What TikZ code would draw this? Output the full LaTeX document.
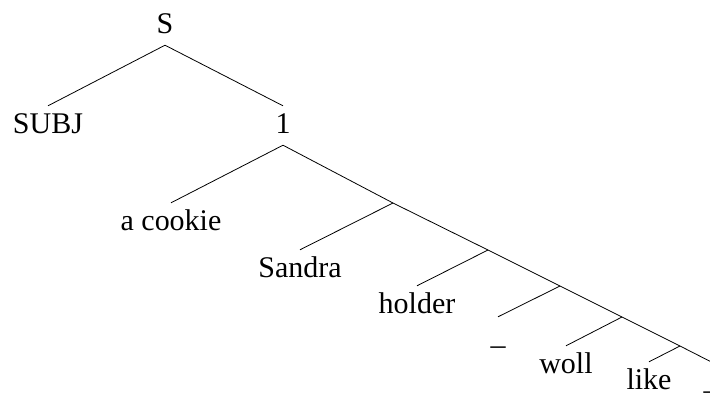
\documentclass[tikz,border=0pt]{standalone}
\usepackage{fontspec}
\setmainfont{Liberation Serif}
\begin{document}
\begin{tikzpicture}[x=1pt,y=-1pt,
  lbl/.style={anchor=base,font=\fontsize{30}{36}\selectfont,text height=22.5pt,text depth=7.5pt,inner ysep=4.5pt,inner xsep=0pt},
  edge/.style={draw=black,line width=0.8pt}]
\useasboundingbox (0,0) rectangle (710,392);
% labels
\node[lbl] (S) at (165,33) {S};
\node[lbl] (subj) at (48,133) {SUBJ};
\node[lbl] (one) at (283,133) {1};
\node[lbl] (cookie) at (171,230) {a cookie};
\node[lbl] (sandra) at (300,277) {Sandra};
\node[lbl] (holder) at (417,313) {holder};
\node[lbl] (ua) at (498,344) {\_};
\node[lbl] (woll) at (566,373) {woll};
\node[lbl] (like) at (649,389) {like};
\node[lbl] (ub) at (711,389) {\_};
% junctions on the spine
\coordinate (j2) at (393,203);
\coordinate (j3) at (488,250);
\coordinate (j4) at (560,286);
\coordinate (j5) at (622,317);
\coordinate (j6) at (680,346);
% connectors
\draw[edge] (subj.north) -- (S.south) -- (one.north);
\draw[edge] (cookie.north) -- (one.south) -- (j2) -- (j3) -- (j4) -- (j5) -- (j6) -- (ub.north);
\draw[edge] (j2) -- (sandra.north);
\draw[edge] (j3) -- (holder.north);
\draw[edge] (j4) -- (ua.north);
\draw[edge] (j5) -- (woll.north);
\draw[edge] (j6) -- (like.north);
\end{tikzpicture}
\end{document}
